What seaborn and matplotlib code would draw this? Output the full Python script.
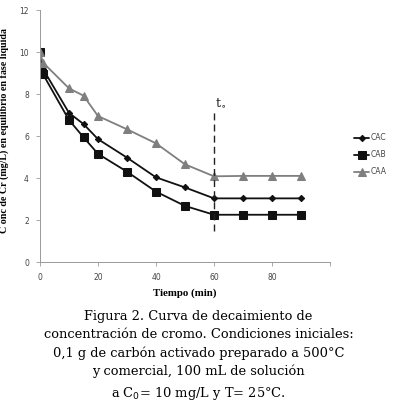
import matplotlib
matplotlib.use("Agg")
import matplotlib.pyplot as plt
import seaborn as sns
import pandas as pd

# Data
tiempo = [0, 1, 10, 15, 20, 30, 40, 50, 60, 70, 80, 90]
cac = [10, 9.2, 7.1, 6.57, 5.85, 4.97, 4.03, 3.55, 3.03, 3.03, 3.03, 3.03]
cab = [10, 8.95, 6.76, 5.94, 5.15, 4.3, 3.35, 2.67, 2.25, 2.25, 2.25, 2.25]
caa = [10, 9.5, 8.27, 7.92, 6.95, 6.32, 5.65, 4.65, 4.08, 4.1, 4.1, 4.1]
series_names = ["CAC", "CAB", "CAA"]
x_ticks = [0, 20, 40, 60, 80, 100]
x_tick_labels = ["0", "20", "40", "60", "80", ""]
y_ticks = [0, 2, 4, 6, 8, 10, 12]
t0_time = 60

caption = ("Figura 2. Curva de decaimiento de\n"
           "concentración de cromo. Condiciones iniciales:\n"
           "0,1 g de carbón activado preparado a 500°C\n"
           "y comercial, 100 mL de solución\n"
           "a C$_0$= 10 mg/L y T= 25°C.")

sns.set_theme(style="white")
plt.rcParams['font.family'] = ['DejaVu Sans']

fig = plt.figure(figsize=(3.97, 4.03), dpi=100)
ax = fig.add_axes([40/397, 1-262/403, 290/397, 252/403])

df = pd.DataFrame({"Tiempo": tiempo * 3,
                   "Conc": cac + cab + caa,
                   "Serie": sum([[n] * len(tiempo) for n in series_names], [])})

styles = {
    "CAC": dict(color="#111111", marker="D", markersize=3.2),
    "CAB": dict(color="#111111", marker="s", markersize=5.5),
    "CAA": dict(color="#7f7f7f", marker="^", markersize=5.5),
}
for name in series_names:
    sub = df[df["Serie"] == name]
    st = styles[name]
    sns.lineplot(data=sub, x="Tiempo", y="Conc", ax=ax, color=st["color"],
                 marker=st["marker"], markersize=st["markersize"],
                 markeredgecolor=st["color"], linewidth=1.3, label=name)

ax.plot([t0_time, t0_time], [1.5, 7.25], color="#222222", linestyle=(0, (5, 3)), linewidth=1.0)
ax.text(t0_time + 0.3, 7.4, "t$_{\\circ}$", fontsize=9, family="DejaVu Serif", color="#222222")

ax.set_xlim(0, 100)
ax.set_ylim(0, 12)
ax.set_xticks(x_ticks)
ax.set_xticklabels(x_tick_labels)
ax.set_yticks(y_ticks)
ax.tick_params(axis="both", labelsize=5.5, labelcolor="#444444", length=3,
               width=0.6, color="#999999", direction="out", pad=5)
ax.tick_params(axis="x", pad=5)
ax.tick_params(left=True, bottom=True)
for s in ["top", "right"]:
    ax.spines[s].set_visible(False)
for s in ["left", "bottom"]:
    ax.spines[s].set_color("#999999")
    ax.spines[s].set_linewidth(0.7)

ax.set_xlabel("Tiempo (min)", fontsize=7.8, fontweight="bold", family="Liberation Serif", color="black")
ax.xaxis.set_label_coords(0.5, -26/252)
ax.set_ylabel("C onc de Cr (mg/L) en equilibrio en fase líquida", fontsize=7.2,
              fontweight="bold", family="Liberation Serif", color="black")
ax.yaxis.set_label_coords(-31/290, (262-131)/252)

leg = ax.legend(loc="center left", bbox_to_anchor=(1.06, 0.425), frameon=False,
                fontsize=5.5, handlelength=1.9, handletextpad=0.2, labelspacing=1.05)
for t in leg.get_texts():
    t.set_color("#444444")

fig.text(0.5, 1-310/403, caption, ha="center", va="top", fontsize=9.4,
         family="DejaVu Serif", linespacing=1.5, color="black")

fig.savefig("out.png", dpi=100)
